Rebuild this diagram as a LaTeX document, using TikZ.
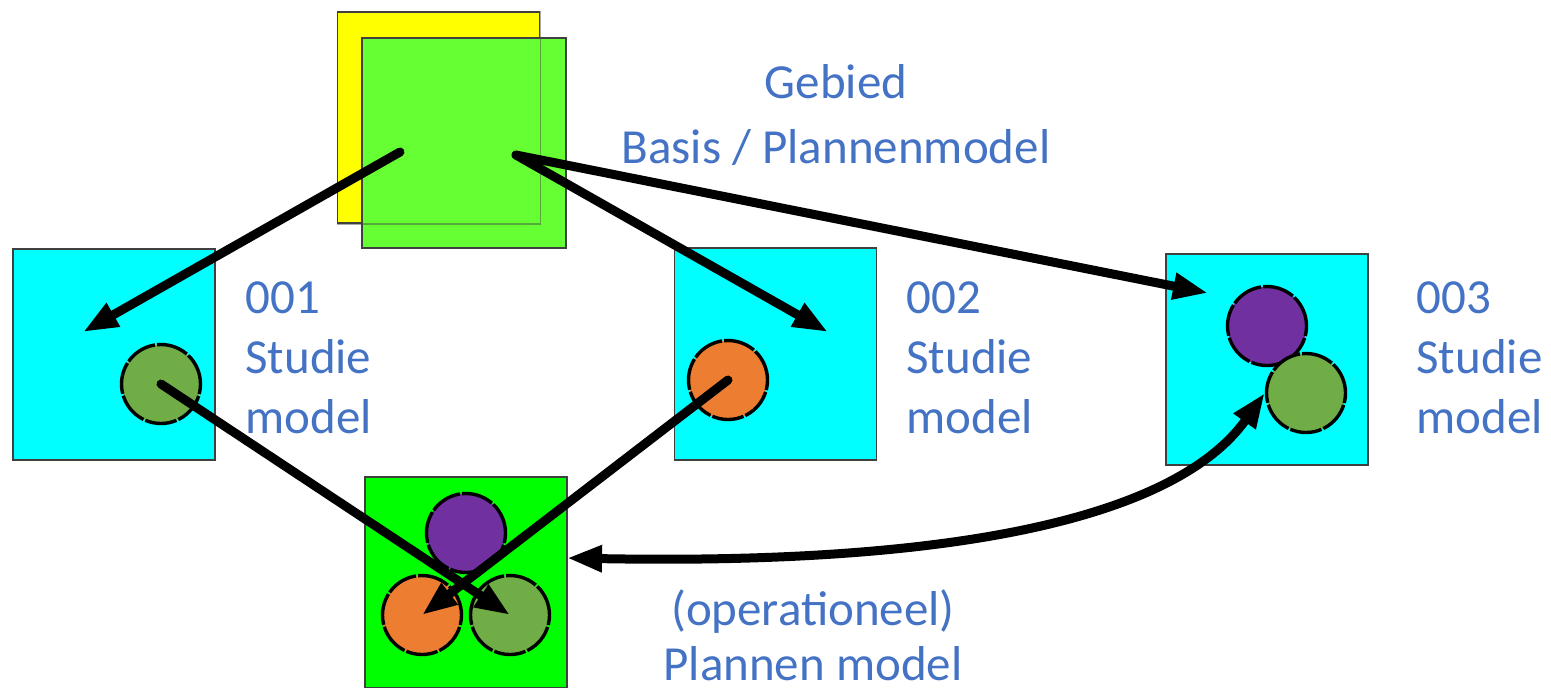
\documentclass[tikz,border=0pt]{standalone}
\usepackage{fontspec}
\setmainfont{Carlito}
\usetikzlibrary{arrows.meta}
\definecolor{txt}{HTML}{4472C4}
\definecolor{yel}{HTML}{FFFF00}
\definecolor{lgreen}{HTML}{66FF33}
\definecolor{bcyan}{HTML}{00FFFF}
\definecolor{bgreen}{HTML}{00FF00}
\definecolor{cpurple}{HTML}{7030A0}
\definecolor{corange}{HTML}{ED7D31}
\definecolor{cgreen}{HTML}{70AD47}
\tikzset{
  box/.style={draw=black!75, line width=0.75pt, inner sep=0pt, minimum width=101pt, minimum height=105.5pt},
  disc/.style={circle, draw=black, line width=1.7pt, dash pattern=on 16pt off 1pt, minimum size=39.5pt, inner sep=0pt},
  tipA/.tip={Triangle[length=17.5pt,width=12.5pt]},
  arr/.style={line width=4.5pt, line cap=round, -tipA},
  darr/.style={line width=4.5pt, tipA-tipA},
  lbl/.style={text=txt, inner sep=0pt, font=\fontsize{24.5}{30}\selectfont},
}
\begin{document}
\begin{tikzpicture}[x=0.5pt,y=-0.5pt]
\useasboundingbox (0,0) rectangle (1551,687);
% squares
\node[box, fill=yel] (yel) at (438.5,117.5) {};
\node[box, fill=lgreen, minimum width=102pt, minimum height=105pt] (gsq) at (464,143) {};
\draw[black!75, line width=0.75pt, opacity=0.45] (yel.north east) -- (yel.south east) -- (yel.south west);
\node[box, fill=bcyan] (b1) at (114,354.5) {};
\node[box, fill=bcyan, minimum height=106pt] (b2) at (775.5,354) {};
\node[box, fill=bcyan] (b3) at (1267,359.5) {};
\node[box, fill=bgreen] (b4) at (466,582.5) {};
% discs
\node[disc, fill=cgreen] (c1) at (161,384) {};
\node[disc, fill=corange] (c2) at (728,380) {};
\node[disc, fill=cpurple] (c3p) at (1267,326) {};
\node[disc, fill=cgreen] (c3g) at (1306,393) {};
\node[disc, fill=cpurple] (c4p) at (466,533) {};
\node[disc, fill=corange] (c4o) at (422,615) {};
\node[disc, fill=cgreen] (c4g) at (510,615) {};
% connector ends
\coordinate (s1) at (400,152);
\coordinate (s2) at (516,155);
\coordinate (t1) at (83,332);
\coordinate (t2) at (828,332);
\coordinate (t3) at (1208,293);
\coordinate (e1) at (567,558);
% arrows
\draw[arr] (s1) -- (t1);
\draw[arr] (s2) -- (t2);
\draw[arr] (s2) -- (t3);
\draw[arr] (c1.center) -- (c4g.center);
\draw[arr] (c2.center) -- (c4o.center);
\draw[darr] (e1) .. controls (1000,566) and (1185,505) .. (c3g.west);
% labels (base anchor = baseline of last line)
\node[lbl, anchor=base, align=center, font=\fontsize{24.5}{32.5}\selectfont] (tg) at (836,163) {Gebied\\Basis / Plannenmodel};
\node[lbl, anchor=base west, align=left] (l1) at (245,433) {001\\Studie\\model};
\node[lbl, anchor=base west, align=left] (l2) at (906,433) {002\\Studie\\model};
\node[lbl, anchor=base west, align=left] (l3) at (1416,433) {003\\Studie\\model};
\node[lbl, anchor=base, align=center, font=\fontsize{24.5}{27.5}\selectfont] (lp) at (813,680) {(operationeel)\\Plannen model};
\end{tikzpicture}
\end{document}
